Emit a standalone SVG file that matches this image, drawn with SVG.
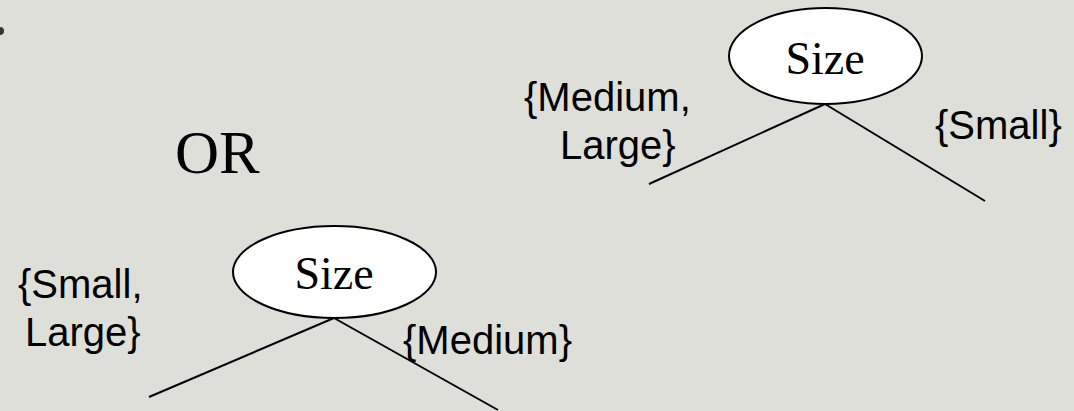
<svg xmlns="http://www.w3.org/2000/svg" width="1074" height="411" viewBox="0 0 1074 411">
  <style>
    .bg { fill: #dfdfd9; }
    .node { fill: #ffffff; stroke: #000000; stroke-width: 2; }
    .edge { stroke: #000000; stroke-width: 2; fill: none; stroke-linecap: butt; }
    .serif { font-family: "Liberation Serif", "Times New Roman", serif; fill: #000000; }
    .sans { font-family: "Liberation Sans", Arial, sans-serif; font-size: 40px; fill: #000000; }
  </style>
  <rect class="bg" x="0" y="0" width="1074" height="411"/>

  <!-- bullet remnant at the left margin -->
  <circle cx="0" cy="31" r="4" fill="#333333"/>

  <!-- split edges -->
  <g id="connectors">
    <line class="edge" x1="825" y1="104" x2="649" y2="184"/>
    <line class="edge" x1="825" y1="104" x2="985" y2="201"/>
    <line class="edge" x1="334" y1="318" x2="149" y2="397"/>
    <line class="edge" x1="334" y1="318" x2="498" y2="410"/>
  </g>

  <!-- upper tree: Size node and branch labels -->
  <g id="node-size-top">
    <ellipse class="node" cx="825.5" cy="56" rx="96.5" ry="48"/>
    <text class="serif" x="825" y="74" font-size="46" text-anchor="middle">Size</text>
  </g>
  <g id="label-medium-large">
    <text class="sans" x="524" y="111">{Medium,</text>
    <text class="sans" x="560" y="159">Large}</text>
  </g>
  <g id="label-small">
    <text class="sans" x="935" y="139">{Small}</text>
  </g>

  <!-- separator word -->
  <g id="or">
    <text class="serif" x="175" y="173" font-size="61">OR</text>
  </g>

  <!-- lower tree: Size node and branch labels -->
  <g id="node-size-bottom">
    <ellipse class="node" cx="334.5" cy="272" rx="101.5" ry="46"/>
    <text class="serif" x="334" y="289" font-size="46" text-anchor="middle">Size</text>
  </g>
  <g id="label-small-large">
    <text class="sans" x="18" y="298">{Small,</text>
    <text class="sans" x="25" y="346">Large}</text>
  </g>
  <g id="label-medium">
    <text class="sans" x="403" y="354">{Medium}</text>
  </g>
</svg>
